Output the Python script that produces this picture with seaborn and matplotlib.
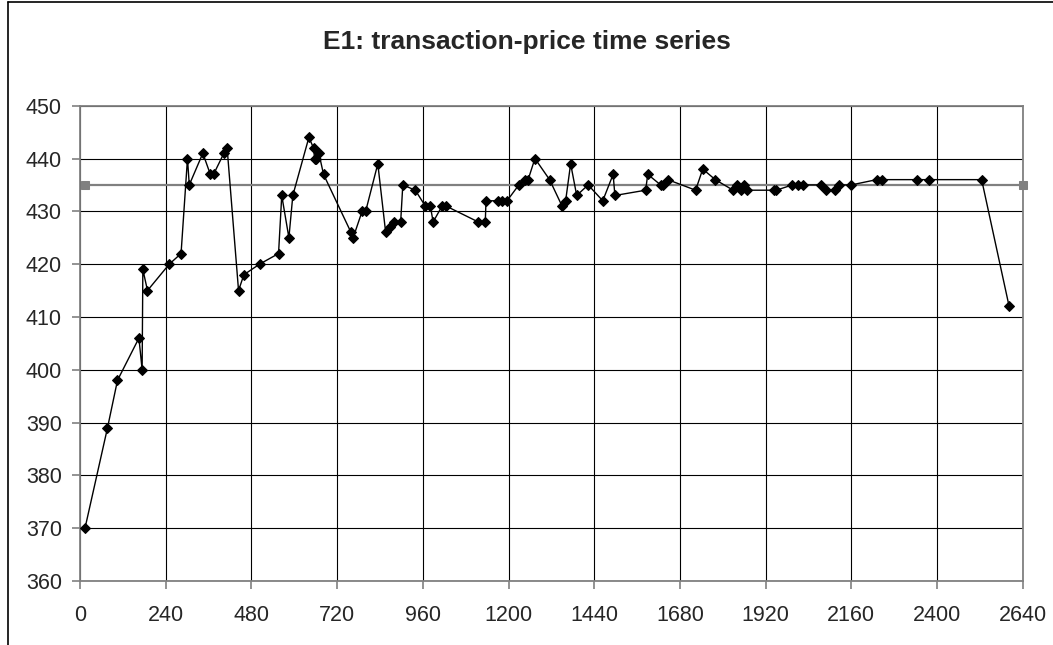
import numpy as np
import pandas as pd
import seaborn as sns
import matplotlib.pyplot as plt
from matplotlib.lines import Line2D

# transaction times (seconds) and prices
times = [14, 77, 105, 165, 174, 176, 189, 250, 283, 301, 306, 344, 365, 374, 403, 412,
         444, 459, 503, 556, 565, 585, 596, 641, 654, 657, 661, 669, 682, 759, 765, 790,
         800, 834, 856, 868, 879, 898, 904, 939, 967, 981, 989, 1014, 1025, 1115, 1135,
         1137, 1171, 1182, 1196, 1229, 1247, 1255, 1274, 1315, 1350, 1360, 1374, 1391,
         1423, 1464, 1493, 1498, 1584, 1590, 1626, 1634, 1646, 1724, 1744, 1779, 1829,
         1840, 1852, 1859, 1867, 1943, 1950, 1995, 2012, 2024, 2075, 2090, 2114, 2125,
         2160, 2231, 2245, 2344, 2378, 2525, 2602]
prices = [370, 389, 398, 406, 400, 419, 415, 420, 422, 440, 435, 441, 437, 437, 441, 442,
          415, 418, 420, 422, 433, 425, 433, 444, 442, 440, 440, 441, 437, 426, 425, 430,
          430, 439, 426, 427, 428, 428, 435, 434, 431, 431, 428, 431, 431, 428, 428,
          432, 432, 432, 432, 435, 436, 436, 440, 436, 431, 432, 439, 433,
          435, 432, 437, 433, 434, 437, 435, 435, 436, 434, 438, 436, 434,
          435, 434, 435, 434, 434, 434, 435, 435, 435, 435, 434, 434, 435,
          435, 436, 436, 436, 436, 436, 412]

# equilibrium price line
eq_times = [14, 2640]
eq_prices = [435, 435]

xticks = list(range(0, 2641, 240))
yticks = list(range(360, 451, 10))

sns.set_style('white')
plt.rcParams['font.family'] = ['Liberation Sans', 'DejaVu Sans']

df = pd.DataFrame({'t': times, 'price': prices})
df_eq = pd.DataFrame({'t': eq_times, 'price': eq_prices})

fig = plt.figure(figsize=(10.53, 6.45), dpi=100)
ax = fig.add_axes([80 / 1053, 1 - 581 / 645, (1022.7 - 80) / 1053, (581 - 105.7) / 645])

sns.lineplot(data=df_eq, x='t', y='price', color='#808080', lw=1.6, marker='s',
             markersize=6, markeredgecolor='#808080', estimator=None, sort=False,
             ax=ax, clip_on=False, zorder=3)
sns.lineplot(data=df, x='t', y='price', color='black', lw=1.0, marker='D',
             markersize=5, markeredgecolor='black', estimator=None, sort=False,
             ax=ax, zorder=4)

ax.set_xlim(0, 2640)
ax.set_ylim(360, 450)
ax.set_xticks(xticks)
ax.set_yticks(yticks)
ax.grid(True, color='black', lw=0.8)
ax.set_axisbelow(True)
for s in ax.spines.values():
    s.set_color('#808080')
    s.set_linewidth(1.3)
ax.tick_params(axis='both', which='major', labelsize=15.5, color='#808080',
               length=5.5, width=1.2, left=True, bottom=True)
ax.tick_params(axis='x', pad=12)
ax.tick_params(axis='y', pad=7.5)
ax.set_xlabel('')
ax.set_ylabel('')

fig.text(0.5, 1 - 48.5 / 645, 'E1: transaction-price time series', ha='center',
         va='baseline', fontsize=19, fontweight='bold')

# outer chart border (cut off at bottom and right)
fig.add_artist(Line2D([8 / 1053, 8 / 1053], [0, 1 - 2 / 645], color='black', lw=1.2))
fig.add_artist(Line2D([8 / 1053, 1], [1 - 2 / 645, 1 - 2 / 645], color='black', lw=1.2))

fig.savefig('out.png', dpi=100)
